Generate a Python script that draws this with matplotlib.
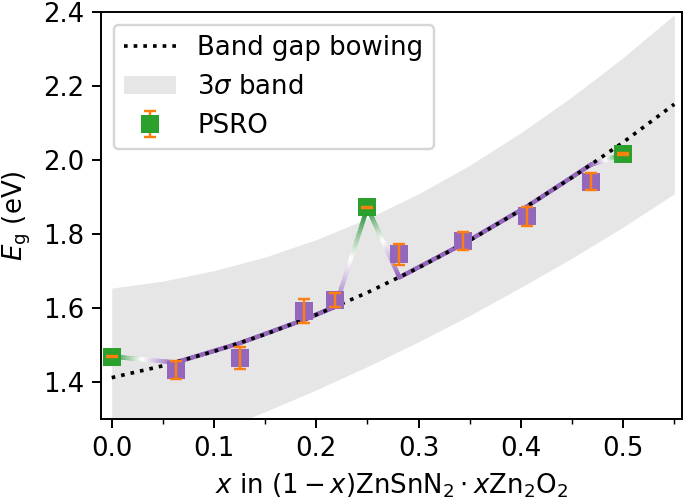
import numpy as np
import matplotlib.pyplot as plt
from matplotlib.collections import LineCollection
from matplotlib.colors import LinearSegmentedColormap
from matplotlib.ticker import MultipleLocator

# bowing curve and 3 sigma band
x_fit = [0.0, 0.05, 0.10, 0.15, 0.20, 0.25, 0.30, 0.35, 0.40, 0.45, 0.50, 0.55]
eg_fit = [1.411, 1.443, 1.482, 1.528, 1.581, 1.641, 1.708, 1.782, 1.864, 1.952, 2.047, 2.150]
band_hi = [1.653, 1.672, 1.700, 1.737, 1.784, 1.841, 1.908, 1.985, 2.073, 2.170, 2.276, 2.392]
band_lo = [1.169, 1.214, 1.264, 1.319, 1.378, 1.441, 1.508, 1.579, 1.655, 1.734, 1.818, 1.908]

# other structures (purple)
x_other = [0.0625, 0.125, 0.1875, 0.21875, 0.28125, 0.34375, 0.40625, 0.46875]
eg_other = [1.431, 1.465, 1.591, 1.620, 1.744, 1.780, 1.847, 1.941]
err_other = [0.025, 0.030, 0.033, 0.019, 0.028, 0.025, 0.025, 0.024]

# PSRO structures (green)
x_psro = [0.0, 0.25, 0.5]
eg_psro = [1.468, 1.871, 2.015]
err_psro = [0.002, 0.002, 0.002]

# path through the structures: bowing curve except at the PSRO points
x_path = [0.0, 0.0625, 0.125, 0.1875, 0.21875, 0.25, 0.28125, 0.34375, 0.40625, 0.46875, 0.5]
eg_path = [1.468, 1.452, 1.504, 1.567, 1.603, 1.871, 1.682, 1.773, 1.874, 1.987, 2.015]
is_psro = [1, 0, 0, 0, 0, 1, 0, 0, 0, 0, 1]

plt.rcParams['font.size'] = 10.7

fig = plt.figure(figsize=(685 / 175, 497 / 175), dpi=175)
ax = fig.add_axes([0.1474, 0.1575, 0.8482, 0.819])

ax.fill_between(x_fit, band_lo, band_hi, color='0.9', lw=0, zorder=1, label=r'3$\sigma$ band')

# gradient line purple -> white -> green
cmap = LinearSegmentedColormap.from_list('pwg', ['tab:purple', 'white', '#1f8a2e'])
segs, cols = [], []
n = 40
for i in range(len(x_path) - 1):
    xs = np.linspace(x_path[i], x_path[i + 1], n + 1)
    ys = np.linspace(eg_path[i], eg_path[i + 1], n + 1)
    a, b = is_psro[i], is_psro[i + 1]
    for j in range(n):
        t = (j + 0.5) / n
        segs.append([(xs[j], ys[j]), (xs[j + 1], ys[j + 1])])
        cols.append(cmap(a + (b - a) * t))
lc = LineCollection(segs, colors=cols, linewidths=1.8, capstyle='round', zorder=2)
ax.add_collection(lc)

ax.plot(x_fit, eg_fit, ':', color='k', lw=1.5, zorder=3, label='Band gap bowing')

eb1 = ax.errorbar(x_other, eg_other, yerr=err_other, fmt='s', ms=7.4, color='tab:purple',
                  ecolor='tab:orange', elinewidth=1, capsize=2.3, capthick=1, barsabove=True,
                  zorder=4)
eb2 = ax.errorbar(x_psro, eg_psro, yerr=err_psro, fmt='s', ms=7.4, color='tab:green',
                  ecolor='tab:orange', elinewidth=1, capsize=2.3, capthick=1, barsabove=True,
                  zorder=4, label='PSRO')
for eb in (eb1, eb2):
    eb[0].set_markeredgewidth(0)

ax.set_xlim(-0.0105, 0.5575)
ax.set_ylim(1.3, 2.4)
ax.xaxis.set_minor_locator(MultipleLocator(0.05))
ax.set_xlabel(r'$x$ in $(1-x)\mathrm{ZnSnN}_2\cdot x\mathrm{Zn}_2\mathrm{O}_2$')
ax.set_ylabel(r'$E_\mathrm{g}$ (eV)')

h, l = ax.get_legend_handles_labels()
order = [l.index('Band gap bowing'), l.index(r'3$\sigma$ band'), l.index('PSRO')]
ax.legend([h[k] for k in order], [l[k] for k in order], loc='upper left')

fig.savefig('out.png', dpi=175)
